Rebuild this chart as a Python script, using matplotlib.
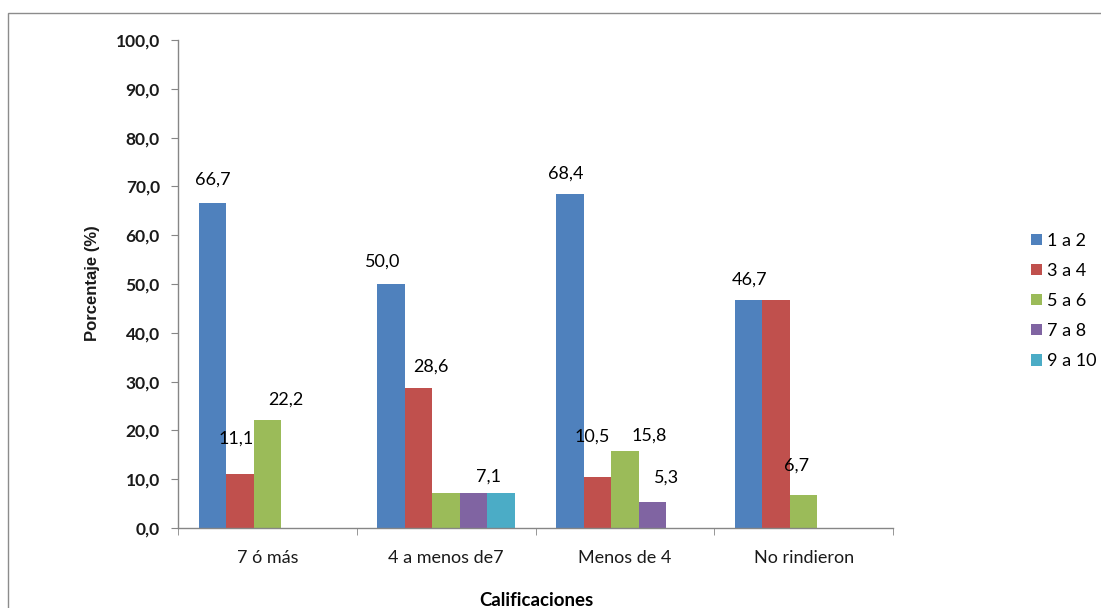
import matplotlib
matplotlib.use("Agg")
import matplotlib.pyplot as plt
from matplotlib.patches import Rectangle
import numpy as np

# Data
categories = ["7 ó más", "4 a menos de7", "Menos de 4", "No rindieron"]
series_names = ["1 a 2", "3 a 4", "5 a 6", "7 a 8", "9 a 10"]
s_1a2 = [66.7, 50.0, 68.4, 46.7]
s_3a4 = [11.1, 28.6, 10.5, 46.7]
s_5a6 = [22.2, 7.1, 15.8, 6.7]
s_7a8 = [0.0, 7.1, 5.3, 0.0]
s_9a10 = [0.0, 7.1, 0.0, 0.0]
y_ticks = [0, 10, 20, 30, 40, 50, 60, 70, 80, 90, 100]

series = [s_1a2, s_3a4, s_5a6, s_7a8, s_9a10]
colors = ["#4F81BD", "#C0504D", "#9BBB59", "#8064A2", "#4BACC6"]

# (series index, category index, dx px, dy px) for the labels shown
label_spots = [
    (0, 0, 0, 23), (1, 0, -4, 35), (2, 0, 18, 20),
    (0, 1, -8, 22), (1, 1, 12, 22), (3, 1, 15, 17),
    (0, 2, -4, 21), (1, 2, -5, 40), (2, 2, 24, 15), (3, 2, 14, 25),
    (0, 3, 1, 20), (2, 3, -7, 30),
]

font = ["Lato", "DejaVu Sans"]
plt.rcParams["font.family"] = font

W, H = 1101, 608
fig = plt.figure(figsize=(W / 100, H / 100), dpi=100)
fig.patch.set_facecolor("white")

# Chart frame (only left and top edges fall inside the image)
fig.add_artist(Rectangle((8 / W, -0.05), 1.2, 1 - 13 / H + 0.05,
                         transform=fig.transFigure, fill=False,
                         edgecolor="#8C8C8C", linewidth=1.0))

ax = fig.add_axes([178 / W, 1 - 528 / H, (893 - 178) / W, (528 - 40) / H])

n_series = len(series)
bar_w = 1 / (n_series + 1.5)
x = np.arange(len(categories))
start = -0.5 + 0.75 * bar_w

bars_all = []
for j, (vals, col, name) in enumerate(zip(series, colors, series_names)):
    pos = x + start + (j + 0.5) * bar_w
    bars = ax.bar(pos, vals, width=bar_w, color=col, label=name,
                  edgecolor="none", zorder=2)
    bars_all.append(bars)

for j, i, dx, dy in label_spots:
    v = series[j][i]
    b = bars_all[j][i]
    ax.annotate(f"{v:.1f}".replace(".", ","),
                xy=(b.get_x() + b.get_width() / 2, v),
                xytext=(dx, dy), textcoords="offset pixels",
                ha="center", va="center", fontsize=13, color="black")

ax.set_xlim(-0.5, len(categories) - 0.5)
ax.set_ylim(0, 100)
ax.set_yticks(y_ticks)
ax.set_yticklabels([f"{t:.1f}".replace(".", ",") for t in y_ticks],
                   fontsize=12.5, fontweight="bold", color="#1a1a1a")
ax.set_xticks(x)
ax.set_xticklabels(categories, fontsize=13, color="#1a1a1a")
ax.set_xticks(np.arange(len(categories) + 1) - 0.5, minor=True)
ax.tick_params(axis="x", which="major", length=0, pad=16)
ax.tick_params(axis="x", which="minor", length=5, color="#868686", direction="out")
ax.tick_params(axis="y", length=5, color="#868686", direction="out", pad=8)

for side in ["top", "right"]:
    ax.spines[side].set_visible(False)
for side in ["left", "bottom"]:
    ax.spines[side].set_color("#868686")
    ax.spines[side].set_linewidth(1.0)

fig.text(92 / W, 1 - 283 / H, "Porcentaje (%)", rotation=90,
         ha="center", va="center", fontsize=12, fontweight="bold",
         family=["Liberation Sans", "DejaVu Sans"], color="#1a1a1a")
fig.text(536 / W, 1 - 600 / H, "Calificaciones",
         ha="center", va="center", fontsize=13.4, fontweight="bold")

leg = fig.legend(loc="center left", bbox_to_anchor=(1022 / W, 1 - 301 / H),
                 frameon=False, fontsize=13, handlelength=0.6,
                 handleheight=0.6, handletextpad=0.3, labelspacing=0.78,
                 borderpad=0)

fig.savefig("out.png", dpi=100, facecolor="white")
